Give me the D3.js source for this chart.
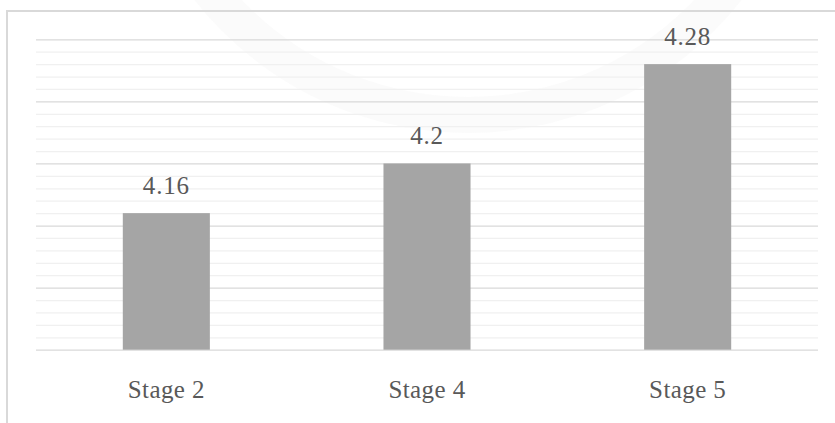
<!DOCTYPE html>
<html>
<head>
<meta charset="utf-8">
<script src="https://cdn.jsdelivr.net/npm/d3@7"></script>
<style>
  html, body { margin: 0; padding: 0; background: #ffffff; }
  svg { display: block; }
  svg text { font-family: "Liberation Serif", "Times New Roman", serif; }
</style>
</head>
<body>
<svg id="chart" width="835" height="423"></svg>
<script>
// Mean score per stage
const stages = ["Stage 2", "Stage 4", "Stage 5"];
const scores = [4.16, 4.2, 4.28];
const valueLabels = ["4.16", "4.2", "4.28"];

// Value axis: range and gridline steps
const yDomain = [4.05, 4.30];
const majorStep = 0.05;
const minorStep = 0.01;

const W = 835, H = 423;
const plot = { left: 36, right: 818, top: 39.3, bottom: 349.7 };
const FONT = "'Liberation Serif', 'Times New Roman', serif";

const svg = d3.select("#chart");

// faint circular seal printed behind the chart
const seal = svg.append("g").attr("pointer-events", "none");
seal.append("circle")
  .attr("cx", 468).attr("cy", -215).attr("r", 330)
  .attr("fill", "none").attr("stroke", "#d6d6d6")
  .attr("stroke-width", 36).attr("opacity", 0.09);

// chart area frame (left and top edges visible)
svg.append("path")
  .attr("d", `M7,${H} L7,11 L${W},11`)
  .attr("fill", "none").attr("stroke", "#d9d9d9").attr("stroke-width", 2);

const x = d3.scaleBand().domain(stages).range([plot.left, plot.right]).padding(0);
const y = d3.scaleLinear().domain(yDomain).range([plot.bottom, plot.top]);

const nMinor = Math.round((yDomain[1] - yDomain[0]) / minorStep);
const minorTicks = d3.range(nMinor + 1).map(i => +(yDomain[0] + i * minorStep).toFixed(2));
const isMajor = v => Math.abs(Math.round((v - yDomain[0]) / majorStep) * majorStep - (v - yDomain[0])) < 1e-6;

// minor gridlines
svg.append("g").call(
  d3.axisLeft(y).tickValues(minorTicks.filter(v => !isMajor(v)))
    .tickSize(-(plot.right - plot.left)).tickFormat("")
).attr("transform", `translate(${plot.left},0)`)
 .call(g => g.select(".domain").remove())
 .call(g => g.selectAll(".tick line").attr("stroke", "#f0f0f0").attr("stroke-width", 1.2));

// major gridlines
svg.append("g").call(
  d3.axisLeft(y).tickValues(minorTicks.filter(v => isMajor(v)))
    .tickSize(-(plot.right - plot.left)).tickFormat("")
).attr("transform", `translate(${plot.left},0)`)
 .call(g => g.select(".domain").remove())
 .call(g => g.selectAll(".tick line").attr("stroke", "#d9d9d9").attr("stroke-width", 1.2));

const barW = x.bandwidth() * 0.334;

// bars
svg.append("g").selectAll("rect")
  .data(stages)
  .join("rect")
  .attr("x", (d) => x(d) + (x.bandwidth() - barW) / 2)
  .attr("y", (d, i) => y(scores[i]))
  .attr("width", barW)
  .attr("height", (d, i) => y(yDomain[0]) - y(scores[i]))
  .attr("fill", "#a5a5a5");

// value labels
svg.append("g").selectAll("text")
  .data(stages)
  .join("text")
  .attr("x", d => x(d) + x.bandwidth() / 2)
  .attr("y", (d, i) => y(scores[i]) - 19)
  .attr("text-anchor", "middle")
  .attr("font-family", FONT)
  .attr("font-size", 25)
  .attr("letter-spacing", 0.8)
  .attr("fill", "#595959")
  .text((d, i) => valueLabels[i]);

// category axis
const xAxis = svg.append("g")
  .attr("transform", `translate(0,${plot.bottom})`)
  .attr("font-family", FONT)
  .call(d3.axisBottom(x).tickSize(0).tickPadding(0));
xAxis.select(".domain").remove();
xAxis.selectAll(".tick text")
  .attr("y", 48.5)
  .attr("dy", 0)
  .attr("font-family", FONT)
  .attr("font-size", 25)
  .attr("letter-spacing", 0.4)
  .attr("fill", "#595959");
</script>
</body>
</html>
